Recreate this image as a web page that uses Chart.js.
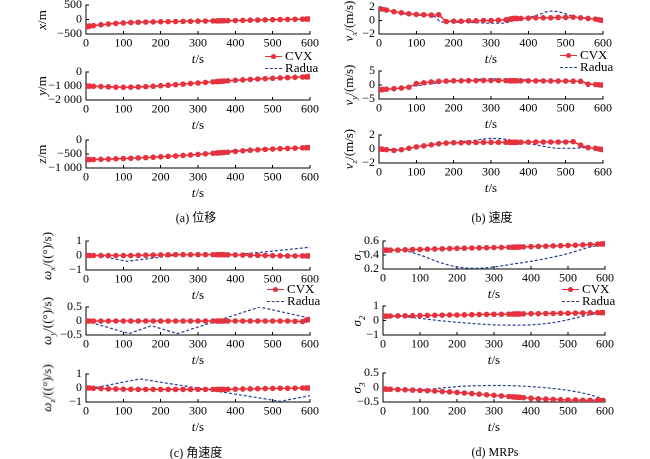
<!DOCTYPE html>
<html><head><meta charset="utf-8">
<script src="https://cdn.jsdelivr.net/npm/chart.js@4/dist/chart.umd.min.js"></script>
<style>
html,body{margin:0;padding:0;background:#fff;}
body{width:650px;height:459px;position:relative;overflow:hidden;font-family:"Liberation Serif","Noto Sans CJK SC",serif;color:#000;}
canvas{position:absolute;}
.yt{position:absolute;transform:translate(-50%,-50%) rotate(-90deg);font-size:13px;white-space:nowrap;}
.yt sub{font-size:9px;font-style:italic;}
.xt{position:absolute;transform:translate(-50%,-50%);font-size:13px;white-space:nowrap;}
.cap{position:absolute;transform:translate(-50%,-50%);font-size:12px;white-space:nowrap;}
.leg{position:absolute;font-size:13px;line-height:12px;}
.li{position:relative;height:12px;white-space:nowrap;}
.ln{position:absolute;left:0;top:6px;width:17px;}
.lr{border-top:1.6px solid #e5323e;}
.lb{border-top:1.3px dashed #2b3f8f;}
.dot{position:absolute;left:6px;top:-3.5px;width:5px;height:5px;border-radius:50%;background:#e5323e;}
.lt{position:absolute;left:20px;top:0;}
</style></head><body>
<script>
// ---- time grids ----
const T_CVX = [0,5,10,20,40,60,80,100,120,140,160,180,200,220,240,260,280,300,320,340,350,355,360,365,370,380,400,420,440,460,480,500,520,540,560,580,590,595,600];
const T_R50 = [0,50,100,150,200,250,300,350,400,450,500,550,600];

// ---- (a) position ----
const X_CVX = [-250,-240,-228,-210,-180,-155,-135,-118,-105,-95,-88,-82,-77,-73,-69,-65,-61,-57,-53,-49,-47,-46,-45,-44,-43,-41,-36,-30,-24,-18,-12,-6,-1,4,9,13,15,16,17];
const X_RAD = [-250,-165,-118,-92,-78,-68,-60,-56,-47,-25,-8,6,17];
const Y_CVX = [-1000,-1005,-1010,-1020,-1040,-1060,-1080,-1090,-1085,-1070,-1045,-1015,-980,-945,-905,-865,-825,-785,-745,-705,-685,-675,-665,-655,-645,-625,-590,-560,-530,-500,-475,-450,-425,-400,-380,-360,-350,-345,-340];
const Y_RAD = [-1000,-1050,-1085,-1060,-985,-890,-790,-690,-595,-515,-450,-390,-340];
const Z_CVX = [-700,-700,-698,-696,-690,-682,-672,-662,-652,-640,-628,-615,-600,-585,-570,-553,-535,-515,-495,-475,-465,-460,-455,-450,-445,-435,-410,-385,-365,-350,-335,-322,-310,-300,-290,-280,-275,-272,-270];
const Z_RAD = [-700,-686,-662,-634,-600,-560,-510,-440,-375,-340,-315,-293,-270];

// ---- (b) velocity ----
const VX_CVX = [1.8,1.75,1.7,1.55,1.3,1.15,1.0,0.9,0.85,0.8,0.85,-0.15,-0.1,-0.1,-0.05,-0.05,0,0,0.05,0.1,0.2,0.25,0.3,0.3,0.3,0.3,0.35,0.4,0.4,0.4,0.45,0.45,0.5,0.4,0.3,0.2,0.1,0.05,0];
const VX_RT = [0,20,50,100,150,165,200,250,300,330,360,400,430,460,480,500,520,550,600];
const VX_RAD = [1.8,1.55,1.15,0.8,0.55,-0.2,-0.25,-0.3,-0.4,-0.4,-0.05,0.4,0.9,1.4,1.3,1.0,0.6,0.4,0];
const VY_CVX = [-1.8,-1.7,-1.6,-1.5,-1.3,-1.1,-0.8,0.5,0.8,1.1,1.3,1.4,1.5,1.5,1.55,1.55,1.6,1.6,1.6,1.55,1.5,1.5,1.5,1.5,1.5,1.5,1.5,1.45,1.45,1.45,1.4,1.4,1.35,1.3,0.3,0.15,0.05,0,0];
const VY_RT = [0,50,100,150,200,250,300,350,400,450,500,540,560,600];
const VY_RAD = [-1.8,-1.2,-0.3,0.6,1.4,1.9,2.2,2.1,1.8,1.6,1.45,1.3,0.5,0];
const VZ_CVX = [0,0,-0.05,-0.1,-0.2,-0.1,0.1,0.3,0.45,0.6,0.75,0.85,0.9,0.9,0.92,0.93,0.95,0.95,0.95,0.95,0.95,0.95,0.95,0.95,0.95,0.97,0.98,1.0,1.0,1.0,1.0,1.0,1.05,0.55,0.2,0.1,0,-0.05,-0.1];
const VZ_RT = [0,50,100,150,200,250,300,320,350,400,450,480,520,550,600];
const VZ_RAD = [0,-0.1,0.3,0.7,0.95,1.2,1.5,1.5,1.3,0.8,0.3,0.1,0.1,0.2,-0.1];

// ---- (c) angular velocity ----
const WX_CVX = [0,0,0,0,0,0,0,0,0,0.01,0.02,0.03,0.04,0.05,0.06,0.06,0.06,0.06,0.06,0.06,0.06,0.06,0.06,0.06,0.05,0.05,0.04,0.03,0.02,0.01,0,-0.01,-0.02,-0.03,-0.03,-0.03,-0.03,-0.03,-0.03];
const WX_RT = [0,30,110,250,400,460,600];
const WX_RAD = [0,0,-0.4,0.05,0.05,0.2,0.57];
const WY_CVX = [0,0,0,0,0,0,0,0,0,0,0,0,0,0,0,0,0,0,0,0,0,0,0,0,0,0,0,0,0,0,0,0,0,0,-0.01,-0.02,0.03,0.05,0.05];
const WY_RT = [0,115,175,245,350,465,600];
const WY_RAD = [0,-0.45,-0.17,-0.45,0,0.5,0.1];
const WZ_CVX = [0,0,0,-0.02,-0.04,-0.06,-0.07,-0.08,-0.09,-0.1,-0.1,-0.1,-0.1,-0.1,-0.1,-0.1,-0.1,-0.1,-0.1,-0.1,-0.1,-0.1,-0.1,-0.1,-0.1,-0.09,-0.08,-0.07,-0.06,-0.05,-0.04,-0.03,-0.02,-0.02,-0.01,0,0,0,0];
const WZ_RT = [0,20,145,520,600];
const WZ_RAD = [0,0,0.65,-0.95,-0.55];

// ---- (d) MRPs ----
const S1_CVX = [0.47,0.47,0.47,0.47,0.47,0.475,0.478,0.48,0.483,0.486,0.489,0.492,0.495,0.497,0.5,0.502,0.504,0.506,0.508,0.51,0.511,0.512,0.513,0.514,0.515,0.516,0.52,0.523,0.526,0.53,0.533,0.537,0.54,0.545,0.55,0.555,0.557,0.558,0.56];
const S1_RAD = [0.47,0.465,0.40,0.30,0.23,0.21,0.23,0.27,0.31,0.36,0.42,0.5,0.56];
const S2_CVX = [0.3,0.3,0.3,0.31,0.32,0.32,0.33,0.34,0.35,0.36,0.37,0.38,0.38,0.39,0.4,0.41,0.42,0.43,0.43,0.44,0.44,0.45,0.45,0.45,0.45,0.46,0.47,0.47,0.48,0.49,0.5,0.5,0.51,0.52,0.53,0.54,0.54,0.55,0.55];
const S2_RAD = [0.3,0.28,0.15,0.0,-0.12,-0.22,-0.3,-0.32,-0.3,-0.18,0.05,0.35,0.55];
const S3_CVX = [-0.05,-0.05,-0.06,-0.06,-0.07,-0.08,-0.09,-0.1,-0.11,-0.12,-0.14,-0.15,-0.17,-0.19,-0.21,-0.23,-0.25,-0.27,-0.29,-0.31,-0.32,-0.33,-0.33,-0.34,-0.34,-0.35,-0.37,-0.39,-0.4,-0.41,-0.42,-0.43,-0.43,-0.44,-0.44,-0.44,-0.45,-0.45,-0.45];
const S3_RAD = [-0.05,-0.07,-0.08,-0.03,0.03,0.06,0.07,0.06,0.03,-0.02,-0.1,-0.22,-0.42];

// ---- tick settings ----
const X_TICKS = [0,600,100];
const SERIES_NAMES = ['CVX','Radua'];

const RED = '#e5323e', BLUE = '#2b3f8f';
const FONT = "'Liberation Serif','Times New Roman',serif";

function pts(ts, vs){ return ts.map((t,i)=>({x:t,y:vs[i]})); }
function fmt(v){
  let s = Math.abs(v) >= 1000 ? String(Math.abs(v)).replace(/\B(?=(\d{3})+(?!\d))/g,' ') : String(Math.round(Math.abs(v)*1000)/1000);
  return (v < 0 ? '\u2212' : '') + s;
}

const panels = [
  {L:86,R:310,T:5,B:34, c:X_CVX, rt:T_R50, r:X_RAD, y:[-500,500,500], title:'<i>x</i>/m', tx:42, smooth:true},
  {L:86,R:310,T:72,B:100, c:Y_CVX, rt:T_R50, r:Y_RAD, y:[-2000,0,1000], title:'<i>y</i>/m', tx:42, smooth:true},
  {L:86,R:310,T:140,B:168, c:Z_CVX, rt:T_R50, r:Z_RAD, y:[-1000,0,500], title:'<i>z</i>/m', tx:42, smooth:true},
  {L:379,R:603,T:7,B:34, c:VX_CVX, rt:VX_RT, r:VX_RAD, y:[-2,2,2], title:'<i>v</i><sub>x</sub>/(m/s)', tx:350, smooth:true},
  {L:379,R:603,T:71,B:99, c:VY_CVX, rt:VY_RT, r:VY_RAD, y:[-5,5,5], title:'<i>v</i><sub>y</sub>/(m/s)', tx:350, smooth:true},
  {L:379,R:603,T:135,B:163, c:VZ_CVX, rt:VZ_RT, r:VZ_RAD, y:[-2,2,2], title:'<i>v</i><sub>z</sub>/(m/s)', tx:350, smooth:true},
  {L:86,R:310,T:241,B:270, c:WX_CVX, rt:WX_RT, r:WX_RAD, y:[-1,1,1], title:'<i>ω</i><sub>x</sub>/((°)/s)', tx:48, smooth:false},
  {L:86,R:310,T:307,B:335, c:WY_CVX, rt:WY_RT, r:WY_RAD, y:[-0.5,0.5,0.5], title:'<i>ω</i><sub>y</sub>/((°)/s)', tx:48, smooth:false},
  {L:86,R:310,T:374,B:402, c:WZ_CVX, rt:WZ_RT, r:WZ_RAD, y:[-1,1,1], title:'<i>ω</i><sub>z</sub>/((°)/s)', tx:48, smooth:false},
  {L:383,R:605,T:241,B:269, c:S1_CVX, rt:T_R50, r:S1_RAD, y:[0.2,0.6,0.2], title:'<i>σ</i><sub>1</sub>', tx:358, smooth:true},
  {L:383,R:605,T:306,B:335, c:S2_CVX, rt:T_R50, r:S2_RAD, y:[-1,1,1], title:'<i>σ</i><sub>2</sub>', tx:358, smooth:true},
  {L:383,R:605,T:373,B:402, c:S3_CVX, rt:T_R50, r:S3_RAD, y:[-0.5,0.5,0.5], title:'<i>σ</i><sub>3</sub>', tx:358, smooth:true}
];

const YW = 50, XH = 20, PR = 20, PT = 20;
panels.forEach(p=>{
  const cv = document.createElement('canvas');
  const w = p.R - p.L + YW + PR, h = p.B - p.T + PT + XH;
  cv.width = w; cv.height = h;
  cv.style.left = (p.L - YW) + 'px'; cv.style.top = (p.T - PT) + 'px';
  cv.style.width = w + 'px'; cv.style.height = h + 'px';
  document.body.appendChild(cv);
  new Chart(cv, {
    type:'line',
    data:{datasets:[
      {label:SERIES_NAMES[0], data:pts(T_CVX,p.c), borderColor:RED, backgroundColor:RED, borderWidth:1.5, pointRadius:2.8, pointBorderWidth:0, pointBackgroundColor:RED, tension:0},
      {label:SERIES_NAMES[1], data:pts(p.rt,p.r), borderColor:BLUE, borderWidth:1.2, borderDash:[3,2], pointRadius:0, cubicInterpolationMode:p.smooth?'monotone':'default', tension:0}
    ]},
    options:{
      responsive:false, animation:false, devicePixelRatio:2,
      layout:{padding:{left:0,right:PR,top:PT,bottom:0}},
      plugins:{legend:{display:false}, tooltip:{enabled:false}},
      scales:{
        x:{type:'linear', min:X_TICKS[0], max:X_TICKS[1],
           ticks:{stepSize:X_TICKS[2], autoSkip:false, padding:5, maxRotation:0, color:'#000', font:{family:FONT,size:12}},
           grid:{display:true, drawOnChartArea:false, drawTicks:true, tickLength:-3, color:'#000'},
           border:{color:'#000', width:1},
           afterFit:s=>{s.height = XH;}},
        y:{type:'linear', min:p.y[0], max:p.y[1],
           ticks:{stepSize:p.y[2], autoSkip:false, padding:7, color:'#000', font:{family:FONT,size:12}, callback:v=>fmt(v)},
           grid:{display:true, drawOnChartArea:false, drawTicks:true, tickLength:-3, color:'#000'},
           border:{color:'#000', width:1},
           afterFit:s=>{s.width = YW;}}
      }
    }
  });
  const yt = document.createElement('div');
  yt.className='yt'; yt.innerHTML = p.title;
  yt.style.left = p.tx+'px'; yt.style.top = ((p.T+p.B)/2)+'px';
  document.body.appendChild(yt);
  const xt = document.createElement('div');
  xt.className='xt'; xt.innerHTML = '<i>t</i>/s';
  xt.style.left = ((p.L+p.R)/2)+'px'; xt.style.top = (p.B+25)+'px';
  document.body.appendChild(xt);
});

const captions = [['(a) 位移',196,217],['(b) 速度',492,217],['(c) 角速度',196,452],['(d) MRPs',495,452]];
captions.forEach(c=>{
  const d=document.createElement('div'); d.className='cap'; d.textContent=c[0];
  d.style.left=c[1]+'px'; d.style.top=c[2]+'px'; document.body.appendChild(d);
});

const legends = [[265,50],[560,49],[267,283],[562,283]];
legends.forEach(l=>{
  const d=document.createElement('div'); d.className='leg';
  d.style.left=l[0]+'px'; d.style.top=l[1]+'px';
  d.innerHTML = '<div class="li"><div class="ln lr"><div class="dot"></div></div><span class="lt">'+SERIES_NAMES[0]+'</span></div>'+
                '<div class="li"><div class="ln lb"></div><span class="lt">'+SERIES_NAMES[1]+'</span></div>';
  document.body.appendChild(d);
});
</script>
</body></html>
